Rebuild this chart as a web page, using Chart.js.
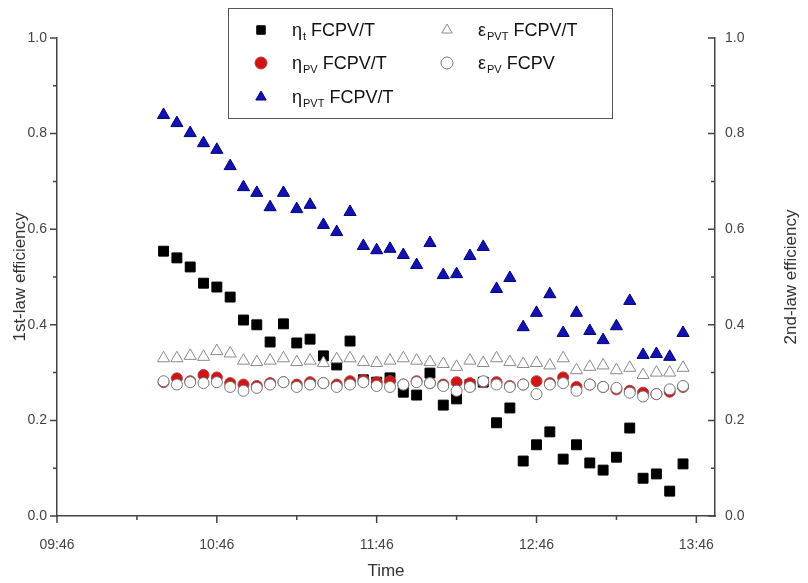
<!DOCTYPE html>
<html>
<head>
<meta charset="utf-8">
<script src="https://cdn.jsdelivr.net/npm/chart.js@4.4.1/dist/chart.umd.min.js"></script>
<style>
html, body { margin: 0; padding: 0; background: #fff; }
#wrap { width: 808px; height: 583px; }
</style>
</head>
<body>
<div id="wrap"><canvas id="myChart" width="808" height="583"></canvas></div>
<script>
// sampling times
var times = ['10:26', '10:31', '10:36', '10:41', '10:46', '10:51', '10:56', '11:01', '11:06', '11:11',
             '11:16', '11:21', '11:26', '11:31', '11:36', '11:41', '11:46', '11:51', '11:56', '12:01',
             '12:06', '12:11', '12:16', '12:21', '12:26', '12:31', '12:36', '12:41', '12:46', '12:51',
             '12:56', '13:01', '13:06', '13:11', '13:16', '13:21', '13:26', '13:31', '13:36', '13:41'];

var etaT = [0.554, 0.540, 0.521, 0.487, 0.479, 0.458, 0.410, 0.400, 0.364, 0.402,
            0.362, 0.370, 0.335, 0.316, 0.366, 0.285, 0.280, 0.289, 0.259, 0.253,
            0.299, 0.232, 0.245, 0.275, 0.280, 0.195, 0.226, 0.115, 0.149, 0.176,
            0.119, 0.149, 0.111, 0.096, 0.123, 0.184, 0.079, 0.088, 0.052, 0.109];

var etaPV = [0.280, 0.288, 0.282, 0.295, 0.290, 0.278, 0.275, 0.272, 0.278, 0.280,
             0.275, 0.280, 0.278, 0.275, 0.282, 0.285, 0.280, 0.282, 0.275, 0.282,
             0.278, 0.275, 0.280, 0.278, 0.280, 0.280, 0.272, 0.275, 0.282, 0.278,
             0.290, 0.270, 0.275, 0.270, 0.265, 0.262, 0.258, 0.255, 0.260, 0.270];

var etaPVT = [0.839, 0.822, 0.801, 0.780, 0.766, 0.732, 0.688, 0.676, 0.646, 0.676,
              0.642, 0.651, 0.609, 0.594, 0.636, 0.565, 0.556, 0.559, 0.546, 0.525,
              0.571, 0.504, 0.506, 0.544, 0.563, 0.475, 0.498, 0.395, 0.425, 0.464,
              0.383, 0.425, 0.387, 0.368, 0.397, 0.450, 0.337, 0.339, 0.333, 0.383];

var exPVT = [0.330, 0.330, 0.335, 0.333, 0.345, 0.340, 0.325, 0.322, 0.325, 0.330,
             0.322, 0.325, 0.320, 0.328, 0.330, 0.322, 0.320, 0.325, 0.330, 0.325,
             0.322, 0.318, 0.312, 0.325, 0.320, 0.330, 0.322, 0.318, 0.320, 0.315,
             0.330, 0.305, 0.312, 0.315, 0.305, 0.310, 0.295, 0.300, 0.300, 0.310];

var exPV = [0.282, 0.275, 0.280, 0.278, 0.280, 0.270, 0.262, 0.268, 0.275, 0.280,
            0.270, 0.275, 0.278, 0.270, 0.275, 0.280, 0.272, 0.270, 0.275, 0.280,
            0.278, 0.272, 0.262, 0.270, 0.282, 0.275, 0.270, 0.275, 0.255, 0.275,
            0.278, 0.262, 0.275, 0.270, 0.268, 0.258, 0.250, 0.255, 0.265, 0.272];

var xTickLabels = ['09:46', '10:46', '11:46', '12:46', '13:46'];
var xMinorLabels = ['10:16', '11:16', '12:16', '13:16'];

function toMin(s) {
    var p = s.split(':');
    return parseInt(p[0], 10) * 60 + parseInt(p[1], 10);
}
function pts(arr) {
    return times.map(function (t, i) { return { x: toMin(t), y: arr[i] }; });
}

var xMajor = xTickLabels.map(toMin);
var xMinor = xMinorLabels.map(toMin);
var xAll = xMajor.concat(xMinor).sort(function (a, b) { return a - b; });

var fontFam = '"Liberation Sans", Arial, sans-serif';

// tick marks (major/minor), right title and legend drawn by hand
var tickPlugin = {
    id: 'ticks',
    afterDraw: function (chart) {
        var ctx = chart.ctx;
        var ca = chart.chartArea;
        ctx.save();
        ctx.strokeStyle = '#444';
        ctx.lineWidth = 1.5;
        ctx.beginPath();
        chart.scales.x.ticks.forEach(function (t) {
            var px = chart.scales.x.getPixelForValue(t.value);
            var len = xMajor.indexOf(t.value) >= 0 ? 7 : 4;
            ctx.moveTo(px, ca.bottom);
            ctx.lineTo(px, ca.bottom + len);
        });
        chart.scales.y.ticks.forEach(function (t) {
            var py = chart.scales.y.getPixelForValue(t.value);
            var len = Math.round(t.value * 10) % 2 === 0 ? 7 : 4;
            ctx.moveTo(ca.left, py);
            ctx.lineTo(ca.left - len, py);
            ctx.moveTo(ca.right, py);
            ctx.lineTo(ca.right - len, py);
        });
        ctx.stroke();

        // right axis title, reads bottom to top
        ctx.fillStyle = '#333';
        ctx.font = '17px ' + fontFam;
        ctx.textAlign = 'center';
        ctx.textBaseline = 'middle';
        ctx.translate(791, (ca.top + ca.bottom) / 2);
        ctx.rotate(-Math.PI / 2);
        ctx.fillText('2nd-law efficiency', 0, 0);
        ctx.restore();

        // legend
        ctx.save();
        ctx.strokeStyle = '#555';
        ctx.lineWidth = 1;
        ctx.strokeRect(228.5, 8.5, 384, 110);
        var items = [
            { ds: 4, x: 261, y: 30, base: 'η', sub: 't', rest: ' FCPV/T' },
            { ds: 1, x: 261, y: 63, base: 'η', sub: 'PV', rest: ' FCPV/T' },
            { ds: 3, x: 261, y: 97, base: 'η', sub: 'PVT', rest: ' FCPV/T' },
            { ds: 2, x: 447, y: 30, base: 'ε', sub: 'PVT', rest: ' FCPV/T' },
            { ds: 0, x: 447, y: 63, base: 'ε', sub: 'PV', rest: ' FCPV' }
        ];
        items.forEach(function (it) {
            var d = chart.data.datasets[it.ds];
            ctx.fillStyle = d.backgroundColor;
            ctx.strokeStyle = d.borderColor;
            ctx.lineWidth = d.borderWidth;
            Chart.helpers.drawPoint(ctx, { pointStyle: d.pointStyle, radius: 6, rotation: 0, borderWidth: d.borderWidth }, it.x, it.y);
            var tx = it.x + 31;
            ctx.fillStyle = '#111';
            ctx.textAlign = 'left';
            ctx.textBaseline = 'alphabetic';
            ctx.font = '18px ' + fontFam;
            ctx.fillText(it.base, tx, it.y + 6);
            tx += ctx.measureText(it.base).width + 1;
            ctx.font = '11px ' + fontFam;
            ctx.fillText(it.sub, tx, it.y + 10);
            tx += ctx.measureText(it.sub).width;
            ctx.font = '18px ' + fontFam;
            ctx.fillText(it.rest, tx, it.y + 6);
        });
        ctx.restore();
    }
};

var ctx = document.getElementById('myChart').getContext('2d');
var myChart = new Chart(ctx, {
    type: 'scatter',
    data: {
        datasets: [
            {
                label: 'εPV FCPV',
                data: pts(exPV),
                pointStyle: 'circle',
                pointRadius: 5.5,
                backgroundColor: '#ffffff',
                borderColor: '#777777',
                borderWidth: 1
            },
            {
                label: 'ηPV FCPV/T',
                data: pts(etaPV),
                pointStyle: 'circle',
                pointRadius: 5.5,
                backgroundColor: '#d01515',
                borderColor: '#b04040',
                borderWidth: 1
            },
            {
                label: 'εPVT FCPV/T',
                data: pts(exPVT),
                pointStyle: 'triangle',
                pointRadius: 7,
                backgroundColor: '#ffffff',
                borderColor: '#8a8a8a',
                borderWidth: 1
            },
            {
                label: 'ηPVT FCPV/T',
                data: pts(etaPVT),
                pointStyle: 'triangle',
                pointRadius: 7,
                backgroundColor: '#1212b0',
                borderColor: '#000080',
                borderWidth: 1
            },
            {
                label: 'ηt FCPV/T',
                data: pts(etaT),
                pointStyle: 'rect',
                pointRadius: 7,
                backgroundColor: '#000000',
                borderColor: '#000000',
                borderWidth: 1
            }
        ]
    },
    options: {
        responsive: false,
        animation: false,
        layout: { padding: { top: 38 } },
        plugins: {
            legend: { display: false },
            tooltip: { enabled: false }
        },
        scales: {
            x: {
                type: 'linear',
                min: 586,
                max: 833,
                afterBuildTicks: function (s) { s.ticks = xAll.map(function (v) { return { value: v }; }); },
                afterFit: function (s) { s.height = 67; },
                ticks: {
                    autoSkip: false,
                    maxRotation: 0,
                    padding: 14,
                    color: '#444',
                    font: { family: fontFam, size: 14 },
                    callback: function (v) {
                        var i = xMajor.indexOf(v);
                        return i >= 0 ? xTickLabels[i] : '';
                    }
                },
                grid: { drawOnChartArea: false, drawTicks: true, tickLength: 7, tickColor: 'rgba(0,0,0,0)' },
                border: { display: true, color: '#444', width: 1.5 },
                title: {
                    display: true,
                    text: 'Time',
                    color: '#333',
                    font: { family: fontFam, size: 17 },
                    padding: { top: 0, bottom: 1 }
                }
            },
            y: {
                min: 0,
                max: 1,
                afterFit: function (s) { s.width = 57; },
                ticks: {
                    stepSize: 0.1,
                    padding: 3,
                    color: '#444',
                    font: { family: fontFam, size: 14 },
                    callback: function (v) { return Math.round(v * 10) % 2 === 0 ? v.toFixed(1) : ''; }
                },
                grid: { drawOnChartArea: false, drawTicks: true, tickLength: 7, tickColor: 'rgba(0,0,0,0)' },
                border: { display: true, color: '#444', width: 1.5 },
                title: {
                    display: true,
                    text: '1st-law efficiency',
                    color: '#333',
                    font: { family: fontFam, size: 17 },
                    padding: { top: 10, bottom: 0 }
                }
            },
            y2: {
                position: 'right',
                min: 0,
                max: 1,
                afterFit: function (s) { s.width = 93; },
                ticks: {
                    stepSize: 0.1,
                    padding: 8,
                    color: '#444',
                    font: { family: fontFam, size: 14 },
                    callback: function (v) { return Math.round(v * 10) % 2 === 0 ? v.toFixed(1) : ''; }
                },
                grid: { drawOnChartArea: false, drawTicks: true, tickLength: 2, tickColor: 'rgba(0,0,0,0)' },
                border: { display: true, color: '#444', width: 1.5 }
            }
        }
    },
    plugins: [tickPlugin]
});
</script>
</body>
</html>
